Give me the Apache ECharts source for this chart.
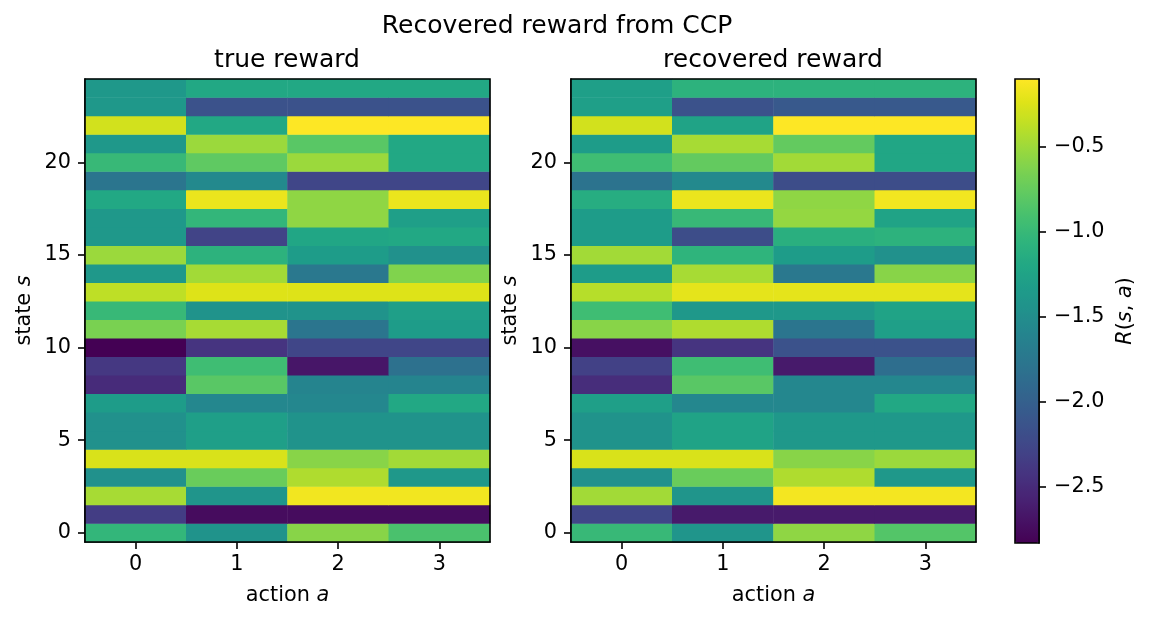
<!DOCTYPE html>
<html>
<head>
<meta charset="utf-8">
<script src="https://cdn.jsdelivr.net/npm/echarts@6/dist/echarts.min.js"></script>
<style>
  html, body { margin: 0; padding: 0; background: #fff; }
  #chart { width: 1150px; height: 620px; }
</style>
</head>
<body>
<div id="chart"></div>
<script>
// actions on x, states on y
const actions = ['0', '1', '2', '3'];
const states = [];
for (let s = 0; s < 25; s++) states.push(String(s));

// rows indexed by state (0 at the bottom), columns by action
const trueReward = [
    [-1.03, -1.44, -0.59, -0.89],
    [-2.34, -2.75, -2.75, -2.75],
    [-0.46, -1.41, -0.15, -0.15],
    [-1.47, -0.73, -0.43, -1.38],
    [-0.26, -0.26, -0.59, -0.48],
    [-1.47, -1.30, -1.44, -1.44],
    [-1.47, -1.30, -1.44, -1.44],
    [-1.33, -1.57, -1.57, -1.19],
    [-2.50, -0.81, -1.60, -1.60],
    [-2.39, -0.95, -2.67, -1.82],
    [-2.83, -2.42, -2.26, -2.26],
    [-0.65, -0.46, -1.77, -1.33],
    [-1.00, -1.44, -1.44, -1.30],
    [-0.37, -0.24, -0.24, -0.24],
    [-1.38, -0.48, -1.74, -0.62],
    [-0.51, -1.08, -1.33, -1.47],
    [-1.38, -2.28, -1.22, -1.19],
    [-1.38, -1.03, -0.56, -1.30],
    [-1.19, -0.18, -0.56, -0.18],
    [-1.77, -1.55, -2.26, -2.26],
    [-1.00, -0.78, -0.51, -1.19],
    [-1.38, -0.51, -0.81, -1.19],
    [-0.29, -1.19, -0.10, -0.10],
    [-1.38, -2.15, -2.15, -2.15],
    [-1.38, -1.19, -1.19, -1.19]
];

const recoveredReward = [
    [-1.00, -1.41, -0.56, -0.84],
    [-2.26, -2.64, -2.64, -2.64],
    [-0.48, -1.41, -0.14, -0.14],
    [-1.47, -0.73, -0.43, -1.38],
    [-0.26, -0.26, -0.59, -0.51],
    [-1.44, -1.25, -1.38, -1.38],
    [-1.44, -1.25, -1.38, -1.38],
    [-1.30, -1.57, -1.57, -1.19],
    [-2.48, -0.81, -1.57, -1.57],
    [-2.31, -0.95, -2.64, -1.85],
    [-2.72, -2.42, -2.15, -2.15],
    [-0.59, -0.43, -1.77, -1.30],
    [-0.95, -1.38, -1.38, -1.25],
    [-0.40, -0.21, -0.21, -0.21],
    [-1.33, -0.46, -1.74, -0.59],
    [-0.48, -1.06, -1.33, -1.47],
    [-1.33, -2.20, -1.11, -1.08],
    [-1.33, -1.00, -0.54, -1.25],
    [-1.14, -0.18, -0.56, -0.15],
    [-1.79, -1.55, -2.20, -2.20],
    [-0.95, -0.76, -0.48, -1.22],
    [-1.33, -0.46, -0.76, -1.22],
    [-0.29, -1.25, -0.10, -0.10],
    [-1.30, -2.15, -2.07, -2.07],
    [-1.30, -1.08, -1.08, -1.08]
];

const colorMin = -2.83;
const colorMax = -0.10;

const viridis = ['#440154', '#471365', '#482475', '#463480', '#414487', '#3b528b',
    '#355f8d', '#2f6c8e', '#2a788e', '#25848e', '#21918c', '#1e9c89', '#22a884',
    '#2fb47c', '#44bf70', '#5ec962', '#7ad151', '#9bd93c', '#bddf26', '#dfe318', '#fde725'];

function toCells(rows) {
    const out = [];
    rows.forEach(function (row, s) {
        row.forEach(function (v, a) { out.push([a, s, v]); });
    });
    return out;
}

const FONT = 'DejaVu Sans';
const INK = '#000000';
const fs = 20.8;

function axisPair(gridIndex) {
    const x = {
        type: 'category', gridIndex: gridIndex, data: actions,
        name: 'action {i|a}', nameLocation: 'middle', nameGap: 43,
        nameTextStyle: { fontSize: fs, color: INK, fontFamily: FONT,
            rich: { i: { fontStyle: 'italic', fontSize: fs, color: INK, fontFamily: FONT } } },
        axisLine: { show: true, lineStyle: { color: INK, width: 1.6 } },
        axisTick: { show: true, alignWithLabel: true, length: 7, lineStyle: { color: INK, width: 1.6 } },
        axisLabel: { fontSize: fs, color: INK, margin: 12, fontFamily: FONT },
        splitLine: { show: false }
    };
    const y = {
        type: 'category', gridIndex: gridIndex, data: states,
        name: 'state {i|s}', nameLocation: 'middle', nameGap: 50, nameRotate: 90,
        nameTextStyle: { fontSize: fs, color: INK, fontFamily: FONT,
            rich: { i: { fontStyle: 'italic', fontSize: fs, color: INK, fontFamily: FONT } } },
        axisLine: { show: true, lineStyle: { color: INK, width: 1.6 } },
        axisTick: { show: true, alignWithLabel: true, length: 7,
            interval: function (i) { return i % 5 === 0; },
            lineStyle: { color: INK, width: 1.6 } },
        axisLabel: { fontSize: fs, color: INK, margin: 14, fontFamily: FONT,
            interval: function (i) { return i % 5 === 0; } },
        splitLine: { show: false }
    };
    return [x, y];
}

const left = axisPair(0);
const right = axisPair(1);

const chart = echarts.init(document.getElementById('chart'), null, { renderer: 'canvas' });

const option = {
    animation: false,
    backgroundColor: '#ffffff',
    textStyle: { fontFamily: FONT },
    title: [
        { text: 'Recovered reward from CCP', left: 557, top: 14, textAlign: 'center', padding: 0,
          textStyle: { fontSize: 25, fontWeight: 'normal', color: INK, fontFamily: FONT } },
        { text: 'true reward', left: 287, top: 48, textAlign: 'center', padding: 0,
          textStyle: { fontSize: 25, fontWeight: 'normal', color: INK, fontFamily: FONT } },
        { text: 'recovered reward', left: 773, top: 48, textAlign: 'center', padding: 0,
          textStyle: { fontSize: 25, fontWeight: 'normal', color: INK, fontFamily: FONT } }
    ],
    grid: [
        { left: 85, top: 79, width: 405, height: 463, show: true, z: 6,
          borderColor: INK, borderWidth: 1.6, backgroundColor: 'transparent' },
        { left: 571, top: 79, width: 405, height: 463, show: true, z: 6,
          borderColor: INK, borderWidth: 1.6, backgroundColor: 'transparent' },
        { left: 1015, top: 79, width: 24, height: 464, show: true, z: 6,
          borderColor: INK, borderWidth: 1.6, backgroundColor: 'transparent' }
    ],
    xAxis: [left[0], right[0],
        { type: 'category', gridIndex: 2, data: [''], show: false }],
    yAxis: [left[1], right[1],
        {
            type: 'value', gridIndex: 2, position: 'right', min: colorMin, max: colorMax,
            splitNumber: 5,
            name: '{i|R}({i|s}, {i|a})', nameLocation: 'middle', nameGap: 76, nameRotate: 90,
            nameTextStyle: { fontSize: fs, color: INK, fontFamily: FONT,
                rich: { i: { fontStyle: 'italic', fontSize: fs, color: INK, fontFamily: FONT } } },
            axisLine: { show: true, lineStyle: { color: INK, width: 1.6 } },
            axisTick: { show: true, length: 7, lineStyle: { color: INK, width: 1.6 } },
            axisLabel: { fontSize: fs, color: INK, margin: 15, fontFamily: FONT,
                showMinLabel: false, showMaxLabel: false,
                formatter: function (v) { return v.toFixed(1).replace('-', '\u2212'); } },
            splitLine: { show: false }
        }],
    visualMap: {
        type: 'continuous', min: colorMin, max: colorMax, seriesIndex: [0, 1],
        calculable: false, hoverLink: false, orient: 'vertical',
        left: 1015, top: 79, itemWidth: 24, itemHeight: 464, padding: 0,
        inRange: { color: viridis }
    },
    series: [
        { name: 'true reward', type: 'heatmap', xAxisIndex: 0, yAxisIndex: 0,
          data: toCells(trueReward), emphasis: { disabled: true } },
        { name: 'recovered reward', type: 'heatmap', xAxisIndex: 1, yAxisIndex: 1,
          data: toCells(recoveredReward), emphasis: { disabled: true } },
        { type: 'line', xAxisIndex: 2, yAxisIndex: 2, data: [], silent: true }
    ]
};

chart.setOption(option);
window.addEventListener('resize', function () { chart.resize(); });
</script>
</body>
</html>
